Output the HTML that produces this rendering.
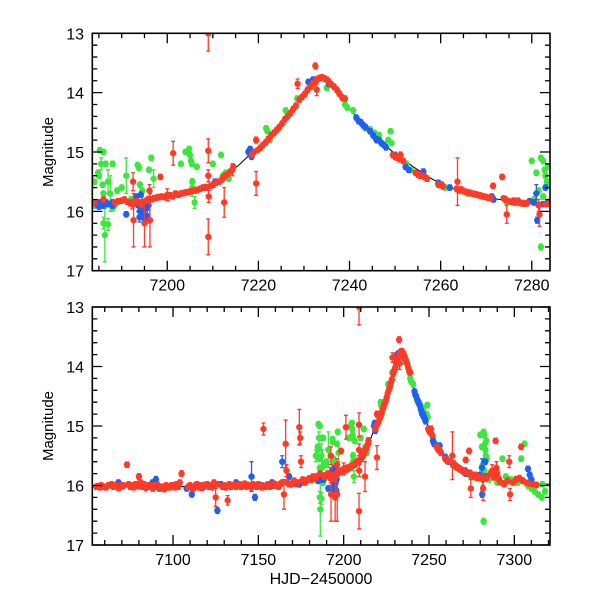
<!DOCTYPE html>
<html><head><meta charset="utf-8"><style>
body{margin:0;background:#fff}
svg{display:block}
text{font-family:"Liberation Sans",sans-serif;fill:#000}
</style></head><body>
<svg id="chart" width="600" height="600" viewBox="0 0 600 600" xmlns="http://www.w3.org/2000/svg">
<defs>
<clipPath id="clipTop"><rect x="92.3" y="33.3" width="457.7" height="237.4"/></clipPath>
<clipPath id="clipBot"><rect x="92.3" y="307" width="457.7" height="238"/></clipPath>
</defs>
</svg>
<script>
// model curve readings
const modelT=[7053,7100,7150,7170,7180,7184,7190,7195,7200,7205,7208,7210,7212,7214,7216,7218,7220,7222,7224,7226,7228,7230,7231,7232,7233,7234,7235,7236,7237,7238,7240,7242,7244,7246,7248,7250,7252,7254,7256,7258,7260,7262,7264,7266,7268,7270,7272,7276,7280,7284,7300,7321];
const modelM=[16.02,16.02,16.0,15.97,15.92,15.9,15.85,15.8,15.75,15.68,15.6,15.55,15.45,15.33,15.2,15.05,14.93,14.78,14.62,14.43,14.23,14.03,13.93,13.83,13.77,13.76,13.8,13.88,13.97,14.07,14.27,14.45,14.62,14.77,14.9,15.03,15.14,15.25,15.35,15.45,15.53,15.6,15.65,15.69,15.73,15.76,15.79,15.83,15.86,15.88,15.95,15.98];
const greenData=[[7183.7,15.5,.1],[7184,15.9,.05],[7184.8,15.35],[7185.2,14.97],[7185.5,15.2,.1],[7185.8,15.55],[7186.0,15.7],[7186,16.2,.1],[7186.3,16.4,.45],[7187,16.22,.1],[7187.5,15.7,.3],[7188,15.95],[7188.5,15.9],[7193.5,15.22],[7193.8,15.27],[7194,15.55],[7194.5,15.65],[7197,15.45,.15],[7204.8,14.95],[7205.0,15.05],[7205.2,15.15],[7205.4,15.2],[7205.5,15.6,.15],[7206.5,15.25],[7208.7,15.6],[7211.8,15.05],[7212.2,15.4],[7212.8,15.35],[7213.5,15.45],[7221.7,14.6],[7222,14.65],[7222.5,14.8],[7224.5,14.6],[7226,14.3],[7228.5,14.1],[7231,13.82],[7232,13.9],[7235,13.92],[7237.5,13.98],[7238.5,14.1],[7239,14.2],[7239.5,14.25],[7240.8,14.3],[7243.5,14.6],[7244.5,14.62],[7245.5,14.68],[7246.5,14.72],[7248.5,14.8],[7249,14.65],[7249.2,14.85],[7252.5,15.2],[7253.5,15.3],[7257,15.45],[7261,15.6],[7266,15.7],[7274.5,15.85],[7276,15.85],[7278,15.87],[7280.5,15.8],[7281.5,15.65],[7282,15.1],[7282.5,15.15],[7282.8,15.3],[7283,15.4],[7283.3,15.5],[7283.5,15.25],[7283.8,15.55],[7282,16.6,.05],[7283.7,15.85],
[7184,15.5],[7185,15.4],[7186,15.0],[7186.5,15.2],[7187,15.5,.2],[7188,15.2],[7189,15.65],[7190,15.6],[7191,15.4,.3],[7192,15.8],[7196,15.3],[7196.5,15.1],[7203,15.2],[7204,15.0],[7205.5,15.5],[7206,15.85,.1],[7210,15.2],[7280,15.15],[7281,15.35],[7282.5,15.75],[7285,15.9],[7290,15.95],[7293,15.55],[7295,15.85],[7298,15.9],[7300,15.95],[7302,15.95],[7304,15.55],[7306,15.3],[7308,16.0],[7310,16.05],[7312,16.1],[7314,16.15],[7316,16.2],[7318,16.1],[7316.5,15.98]];
const blueData=[[7185,15.92],[7186,15.9],[7187,15.88],[7188,15.85],[7193.2,15.75],[7193.6,15.9,.1],[7194,16.0,.1],[7194.4,15.85,.1],[7194.8,16.05,.1],[7195.2,15.95,.1],[7195.6,16.08,.1],[7194.2,15.72],[7193.9,16.1,.08],[7195.0,16.12,.08],[7195.9,15.9,.08],[7184.5,15.88],[7185.6,15.9],[7186.6,15.85],[7208.5,15.6],[7210.5,15.5],[7217.8,15.0],[7218.2,14.95],[7218.5,15.08],[7231,13.82],[7232,13.78],[7235.5,13.85],[7241.5,14.42],[7242,14.48],[7242.5,14.5],[7243,14.55],[7243.5,14.58],[7244.5,14.65],[7245.2,14.72],[7245.8,14.78],[7246.5,14.8],[7247,14.85],[7247.5,14.88],[7248,14.92],[7252.3,15.25],[7253,15.3],[7256.2,15.33],[7259.5,15.52],[7260.2,15.55],[7262,15.6],[7268,15.72],[7271.2,15.75],[7271.6,15.8],[7276,15.82],[7279.5,15.83],[7280.5,15.85],[7281.2,16.15,.05],[7282.5,15.88],[7283.5,15.85],
[7068,15.95],[7085,16.0],[7088,15.95],[7090,15.9,.05],[7092,16.05],[7096,16.02],[7103,15.98],[7108,16.05],[7111,16.15],[7118,16.0],[7126,16.42,.05],[7128,15.98],[7137,15.95],[7145,16.0],[7146,15.85,.25],[7148,16.2,.05],[7152,16.0],[7158,15.95],[7160,16.0],[7164,15.6,.1],[7168,15.85],[7174,15.98],[7185,15.85],[7188,15.9],[7191,16.05],[7196,16.15],[7246,14.8],[7250,15.05],[7281,15.7,.15],[7283,15.6],[7308,15.72],[7309,15.82],[7310,15.9]];
const redData=[[7188.5,15.85],[7189.2,15.83],[7190.0,15.82],[7190.6,15.80],[7191.2,15.84,.04],[7191.8,15.86,.05],[7192.3,15.88,.08],[7192.5,15.50,.15],[7192.6,16.15,.45],[7192.9,15.86,.05],[7193.3,15.83,.04],[7193.8,15.85,.04],[7194.3,15.88,.05],[7194.8,15.84,.04],[7195.3,15.82,.04],[7195.8,15.80,.05],[7196.1,15.65,.1],[7196.2,16.15,.45],[7196.6,15.80,.04],[7197.1,15.78],[7197.6,15.77],[7198.1,15.76],[7198.5,15.42],[7198.8,15.75],[7199.4,15.76],[7200.0,15.74],[7200.6,15.73],[7201.2,15.75,.04],[7201.3,15.02,.2],[7201.8,15.70],[7202.4,15.72],[7203.0,15.70],[7203.6,15.69],[7204.2,15.68],[7204.8,15.67],[7205.4,15.66],[7206.0,15.65],[7206.6,15.64],[7207.2,15.62],[7207.8,15.60],[7208.4,15.59],[7209.0,14.98,.2],[7209.0,15.40,.1],[7209.1,15.75,.1],[7209.0,16.43,.3],[7209.0,13.0,.3],[7209.5,15.57],[7210.1,15.55],[7210.7,15.52],[7211.3,15.50],[7211.9,15.47,.04],[7212.3,15.43,.05],[7212.5,15.85,.25],[7212.7,15.40,.05],[7213.2,15.38,.04],[7213.8,15.33,.04],[7214.3,15.30,.1],[7214.5,15.25,.05],
[7218.5,15.05,.04],[7219.0,15.00,.04],[7219.5,14.80,.05],[7219.5,15.53,.2],[7219.8,14.97,.04],[7220.4,14.93],[7221.0,14.88],[7221.6,14.84],[7222.2,14.78],[7222.8,14.72],[7223.4,14.68],[7224.0,14.63],[7224.6,14.58],[7225.2,14.52],[7225.8,14.45],[7226.4,14.40],[7227.0,14.35],[7227.6,14.28],[7228.2,14.22],[7228.6,13.85,.08],[7229.0,14.12],[7229.6,14.07],[7230.2,14.02],[7230.8,13.95],[7231.4,13.90],[7232.0,13.84],[7232.5,13.55,.05],[7232.6,13.80,.06],[7232.8,13.95,.1],[7233.0,13.77],[7233.5,13.75],[7234.0,13.74],[7234.5,13.76],[7235.0,13.78],[7235.5,13.82],[7236.0,13.86],[7236.6,13.90],[7237.2,13.95],[7237.8,14.02],[7238.4,14.08],[7239.0,14.10],
[7249.5,15.05],[7250.0,15.08],[7250.5,15.10],[7251.0,15.12],[7251.2,15.05,.05],[7251.8,15.15],[7254.5,15.35],[7255.0,15.38],[7255.5,15.40],[7256.0,15.40],[7256.5,15.42],[7257.0,15.45],[7259.5,15.55],[7260.0,15.56],[7260.5,15.58],[7263.5,15.62],[7263.7,15.50,.4],[7264.0,15.65],[7264.5,15.63],[7265.0,15.66],[7265.5,15.67],[7266.0,15.68],[7266.5,15.69],[7267.0,15.70],[7267.5,15.71],[7268.0,15.72],[7268.5,15.73],[7269.0,15.74],[7269.5,15.75],[7270.0,15.76],[7270.5,15.77],[7271.0,15.78],[7271.5,15.57],[7273.5,15.42],[7273.8,15.78,.04],[7274.2,15.80,.05],[7274.5,16.05,.15],[7274.8,15.82,.04],[7275.5,15.84],[7276.0,15.83],[7276.5,15.85],[7277.0,15.82],[7277.5,15.86],[7278.0,15.86],[7278.5,15.87],[7279.0,15.86],[7281.5,15.90,.1],[7281.7,16.05,.2],[7283.0,15.88],[7283.8,15.87],
[7286,15.80,.05],[7287,15.75,.1],[7288,15.85,.06],[7289,15.25],[7289.5,15.7,.1],[7290,15.80,.05],[7291,15.9,.05],[7292,15.95,.04],[7294,15.98,.04],[7296,15.92,.05],[7297,15.6,.1],[7297.5,16.15,.1],[7299,15.95,.04],[7301,15.90,.05],[7303,15.88,.05],[7304,15.35],[7305,15.92,.05],[7307,15.95,.04],[7309,15.97,.04],[7311,15.98,.04],[7313,15.99],
[7055,16.02],[7056,16.01],[7057,16.03],[7058,16.0],[7059,16.02],[7060.5,16.03],[7062,16.0],[7064,15.98],[7065,16.02],[7066,16.0],[7067,16.01],[7068,16.04],[7069,16.03],[7070,16.0],[7071,16.0],[7073,15.65],[7074,15.98],[7075,16.02],[7076,16.0],[7077,16.03],[7078,15.98],[7079,16.01],[7080,15.85,.05],[7081,15.95],[7082,16.02],[7083,15.98],[7084,16.04],[7085,16.02],[7086,16.0],[7087,16.01],[7088,16.05],[7089,16.0],[7090,16.02],[7091,15.99],[7092,16.03],[7093,16.05],[7094,16.02],[7095,16.06],[7096,16.0],[7097,16.02],[7098,16.03],[7099,16.0],[7100,16.0],[7101,16.03],[7102,15.98],[7103,16.02],[7104,15.95],[7105,15.8,.05],[7109,16.02],[7110,16.0],[7111,16.04],[7112,16.05],[7113,16.0],[7114,15.98],[7115,16.03],[7116,16.0],[7117,16.04],[7118,16.02],[7119,15.99],[7120,15.98],[7121,16.02],[7122,16.0],[7123,16.03],[7124,15.95],[7125,16.2,.15],[7126,15.98],[7129,16.02],[7130,16.0],[7131,16.03],[7132,16.25,.08],[7133,15.98],[7134,16.02],[7135,16.0],[7136,15.99],[7137,16.02],[7138,16.0],[7139,15.98],[7140,16.02],[7141,16.0],[7142,15.97],[7143,16.02],[7144,15.99],[7145,16.0],[7146,16.03],[7147,15.98],[7148,16.0],[7149,16.02],[7150,15.98],[7151,16.0],[7152,16.03],[7153,15.05,.1],[7154,16.02],[7155,15.99],[7156,15.98],[7157,16.02],[7158,16.0],[7159,15.97],[7160,15.98],[7161,16.01],[7162,16.02],[7163,15.97],[7164,15.95],[7165,16.15,.25],[7166,15.3,.4],[7166.5,15.75,.1],[7167,15.95],[7168,15.98],[7169,15.98],[7170,15.96],[7171,15.92],[7172,15.97],[7173,15.95],[7174,15.02,.3],[7174.5,15.2,.1],[7175,15.6,.1],[7176,15.9],[7177,15.95],[7178,15.93],[7179,15.9],[7180,15.88],[7181,15.9],[7182,15.85],[7183,15.88],[7184,15.85],[7186,15.8],[7195,16.2,.4],[7200,15.72,.1]];
const topTicksX=[7200,7220,7240,7260,7280];
const botTicksX=[7100,7150,7200,7250,7300];
const ticksY=[13,14,15,16,17];

const NS='http://www.w3.org/2000/svg';
const svg=document.getElementById('chart');
function el(tag,attrs,parent){const e=document.createElementNS(NS,tag);for(const k in attrs)e.setAttribute(k,attrs[k]);(parent||svg).appendChild(e);return e;}
const panels=[
 {name:'top',x0:7183.55,x1:7284,L:92.3,R:550,T:33.3,B:270.7,clip:'clipTop',major:topTicksX,minorStep:5},
 {name:'bottom',x0:7052.7,x1:7320.9,L:92.3,R:550,T:307,B:545,clip:'clipBot',major:botTicksX,minorStep:10}
];
const colors={green:'#3ce63c',blue:'#1f5ff2',red:'#ff3b28'};
panels.forEach(p=>{
 const xs=t=>p.L+(t-p.x0)/(p.x1-p.x0)*(p.R-p.L);
 const ys=m=>p.T+(m-13)/4*(p.B-p.T);
 const g=el('g',{'clip-path':'url(#'+p.clip+')'});
 
 
 let d='';modelT.forEach((t,i)=>{d+=(i?'L':'M')+xs(t).toFixed(1)+' '+ys(modelM[i]).toFixed(1);});
 const line=el('path',{d:d,fill:'none',stroke:'#000','stroke-width':1},g);
 
 
 [['green',greenData],['blue',blueData],['red',redData]].forEach(([c,arr])=>{
  const sg=el('g',{},g);
  
  
  arr.forEach(pt=>{
   const t=pt[0],m=pt[1],e=pt.length>2?pt[2]:0.045;
   const x=xs(t),y=ys(m),y1=ys(m-e),y2=ys(m+e);
   el('path',{d:`M${x} ${y1}V${y2}M${x-2} ${y1}h4M${x-2} ${y2}h4`,stroke:colors[c],'stroke-width':1.3,fill:'none'},sg);
   const dot=el('circle',{cx:x,cy:y,r:3.2,fill:colors[c]},sg);
   
   
  });
 });
 const fr=el('rect',{x:p.L,y:p.T,width:p.R-p.L,height:p.B-p.T,fill:'none',stroke:'#000','stroke-width':1.6});
 
 
 let tk='';
 for(let t=Math.ceil(p.x0/p.minorStep)*p.minorStep;t<=p.x1;t+=p.minorStep){
  const big=p.major.includes(t)?10:5;const x=xs(t);
  tk+=`M${x} ${p.B}v${-big}M${x} ${p.T}v${big}`;
 }
 for(let m=13;m<=17.001;m+=0.2){
  const mm=Math.round(m*10)/10;const big=Math.abs(mm-Math.round(mm))<0.01?10:5;const y=ys(mm);
  tk+=`M${p.L} ${y}h${big}M${p.R} ${y}h${-big}`;
 }
 const tp=el('path',{d:tk,stroke:'#000','stroke-width':1.3,fill:'none'});
 
 
 p.major.forEach(t=>{
  const tx=el('text',{x:xs(t),y:p.B+20,'text-anchor':'middle','font-size':16});
  tx.textContent=t;
  
  
 });
 ticksY.forEach(m=>{
  const tx=el('text',{x:84,y:ys(m)+6,'text-anchor':'end','font-size':16});
  tx.textContent=m;
  
  
 });
 const yl=el('text',{x:0,y:0,'text-anchor':'middle','font-size':15,transform:`translate(53,${(p.T+p.B)/2}) rotate(-90)`});
 yl.textContent='Magnitude';
 
 
});
const xl=el('text',{x:321,y:584,'text-anchor':'middle','font-size':16});
xl.textContent='HJD\u22122450000';


</script>
</body></html>
